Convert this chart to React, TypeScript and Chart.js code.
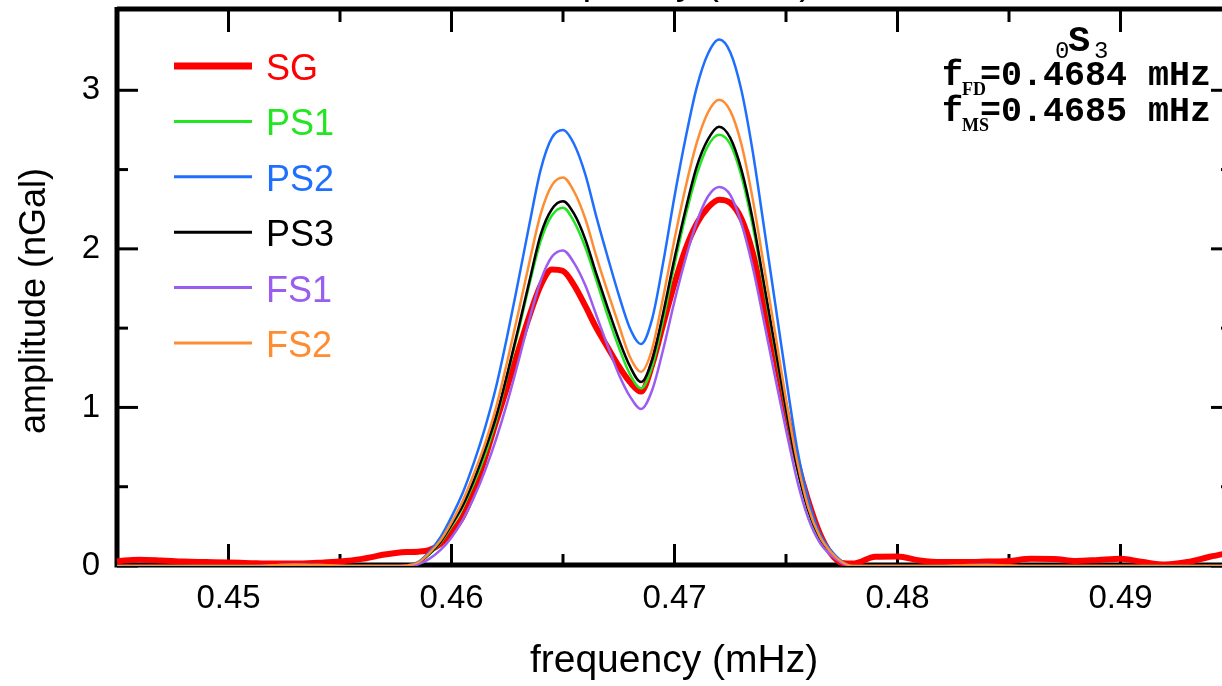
import React, { useEffect, useRef } from "react";
import { Chart, registerables } from "chart.js";

Chart.register(...registerables);

// frequency grid (mHz)
const FREQ = [
  0.445, 0.446, 0.447, 0.448, 0.449, 0.45, 0.451, 0.452, 0.453, 0.454, 0.455, 0.456, 0.457,
  0.4575, 0.458, 0.4585, 0.459, 0.4595, 0.46, 0.4605, 0.461, 0.4615, 0.462,
  0.4625, 0.463, 0.4635, 0.464, 0.4645, 0.465, 0.4655, 0.466, 0.4665, 0.467,
  0.4675, 0.468, 0.4685, 0.469, 0.4695, 0.47, 0.4705, 0.471, 0.4715, 0.472,
  0.4725, 0.473, 0.4735, 0.474, 0.4745, 0.475, 0.4755, 0.476, 0.4765, 0.477,
  0.4775, 0.478,
  0.479, 0.48, 0.481, 0.482, 0.483, 0.484, 0.485, 0.486, 0.487, 0.488, 0.489, 0.49,
  0.491, 0.492, 0.493, 0.494, 0.495,
];

const SG = [
  0.03, 0.04, 0.035, 0.028, 0.025, 0.022, 0.018, 0.015, 0.015, 0.02, 0.028, 0.045, 0.072,
  0.082, 0.088, 0.09, 0.1, 0.14, 0.21, 0.31, 0.47, 0.68, 0.91,
  1.13, 1.36, 1.58, 1.77, 1.87, 1.86, 1.77, 1.64, 1.5, 1.38,
  1.26, 1.16, 1.1, 1.27, 1.53, 1.78, 2.0, 2.16, 2.26, 2.31,
  2.29, 2.19, 1.98, 1.66, 1.33, 0.98, 0.66, 0.41, 0.21, 0.08,
  0.02, 0.015,
  0.058, 0.06, 0.035, 0.025, 0.025, 0.028, 0.032, 0.045, 0.044, 0.032, 0.038, 0.045,
  0.025, 0.01, 0.025, 0.058, 0.085,
];

const PS1 = [
  0, 0, 0, 0, 0, 0, 0, 0.003, 0.007, 0.005, 0.002, 0, 0,
  0, 0.004, 0.02, 0.072, 0.145, 0.25, 0.37, 0.52, 0.7, 0.92,
  1.2, 1.48, 1.78, 2.05, 2.21, 2.26, 2.17, 2.01, 1.8, 1.58,
  1.38, 1.21, 1.12, 1.26, 1.56, 1.9, 2.21, 2.47, 2.65, 2.72,
  2.66, 2.46, 2.15, 1.77, 1.37, 0.98, 0.62, 0.35, 0.17, 0.08,
  0.025, 0,
  0, 0, 0, 0, 0.004, 0.006, 0.003, 0, 0, 0, 0, 0,
  0, 0, 0, 0, 0,
];

const PS2 = [
  0, 0, 0, 0, 0, 0, 0, 0.004, 0.008, 0.006, 0.002, 0, 0,
  0, 0.005, 0.025, 0.09, 0.18, 0.31, 0.46, 0.65, 0.87, 1.13,
  1.45, 1.8, 2.16, 2.5, 2.7, 2.75, 2.66, 2.47, 2.2, 1.95,
  1.71, 1.5, 1.4, 1.56, 1.92, 2.33, 2.7, 3.02, 3.23, 3.32,
  3.24, 3.0, 2.62, 2.15, 1.67, 1.19, 0.74, 0.42, 0.21, 0.1,
  0.03, 0,
  0, 0, 0, 0, 0.005, 0.007, 0.003, 0, 0, 0, 0, 0,
  0, 0, 0, 0, 0,
];

const PS3 = [
  0, 0, 0, 0, 0, 0, 0, 0.003, 0.007, 0.005, 0.002, 0, 0,
  0, 0.004, 0.02, 0.075, 0.15, 0.26, 0.38, 0.54, 0.73, 0.94,
  1.21, 1.5, 1.8, 2.09, 2.25, 2.3, 2.22, 2.06, 1.84, 1.63,
  1.43, 1.26, 1.16, 1.3, 1.6, 1.94, 2.25, 2.52, 2.69, 2.77,
  2.7, 2.5, 2.19, 1.79, 1.39, 0.99, 0.62, 0.35, 0.18, 0.08,
  0.025, 0,
  0, 0, 0, 0, 0.004, 0.006, 0.003, 0, 0, 0, 0, 0,
  0, 0, 0, 0, 0,
];

const FS1 = [
  0, 0, 0, 0, 0, 0, 0, 0.004, 0.009, 0.006, 0.002, 0, 0,
  0, 0, 0.01, 0.045, 0.1, 0.18, 0.29, 0.43, 0.6, 0.8,
  1.03, 1.29, 1.56, 1.8, 1.95, 1.99, 1.91, 1.77, 1.58, 1.39,
  1.21, 1.07, 0.99, 1.11, 1.37, 1.67, 1.94, 2.17, 2.33, 2.39,
  2.34, 2.16, 1.89, 1.55, 1.2, 0.86, 0.54, 0.3, 0.15, 0.07,
  0.02, 0,
  0, 0, 0, 0, 0.005, 0.008, 0.003, 0, 0, 0, 0, 0,
  0, 0, 0, 0, 0,
];

const FS2 = [
  0, 0, 0, 0, 0, 0, 0, 0.004, 0.008, 0.006, 0.002, 0, 0,
  0, 0.004, 0.022, 0.08, 0.16, 0.275, 0.41, 0.58, 0.77, 1.0,
  1.29, 1.6, 1.92, 2.22, 2.4, 2.45, 2.36, 2.19, 1.95, 1.73,
  1.52, 1.32, 1.225, 1.37, 1.7, 2.06, 2.39, 2.67, 2.86, 2.94,
  2.87, 2.66, 2.32, 1.9, 1.48, 1.05, 0.66, 0.37, 0.19, 0.09,
  0.027, 0,
  0, 0, 0, 0, 0.005, 0.007, 0.003, 0, 0, 0, 0, 0,
  0, 0, 0, 0, 0,
];

const SERIES_LABELS = ["SG", "PS1", "PS2", "PS3", "FS1", "FS2"];
const SERIES_VALUES = [SG, PS1, PS2, PS3, FS1, FS2];
const SERIES_COLORS = ["#ff0000", "#22e622", "#1f6fff", "#000000", "#9b5cf0", "#ff8c30"];
const SERIES_WIDTHS = [6, 2.5, 2.5, 2.5, 2.5, 2.5];

const X_TICKS = [0.45, 0.46, 0.47, 0.48, 0.49];
const X_MINOR = [0.455, 0.465, 0.475, 0.485];
const Y_TICKS = [0, 1, 2, 3];
const Y_MINOR = [0.5, 1.5, 2.5];

const X_TITLE = "frequency (mHz)";
const Y_TITLE = "amplitude (nGal)";
const MODE_NAME = ["0", "S", "3"];
const F_LINES = [
  ["f", "FD", "=0.4684 mHz"],
  ["f", "MS", "=0.4685 mHz"],
];

const OFFSET_Y = 40; // canvas is shifted up by this many pixels
const CW = 1262;
const CH = 726;

const decorPlugin = {
  id: "decor",
  beforeDatasetsDraw(chart: any) {
    const { ctx, chartArea: a, scales } = chart;
    const x = scales.x;
    const y = scales.y;
    ctx.save();
    ctx.strokeStyle = "#000";
    ctx.lineCap = "butt";
    ctx.lineWidth = 3;
    const bottom = a.bottom - 1;
    const tick = (x1: number, y1: number, x2: number, y2: number) => {
      ctx.beginPath();
      ctx.moveTo(x1, y1);
      ctx.lineTo(x2, y2);
      ctx.stroke();
    };
    X_TICKS.forEach((v) => {
      const px = x.getPixelForValue(v);
      tick(px, bottom, px, bottom - 21);
      tick(px, a.top, px, a.top + 21);
    });
    X_MINOR.forEach((v) => {
      const px = x.getPixelForValue(v);
      tick(px, bottom, px, bottom - 11);
      tick(px, a.top, px, a.top + 11);
    });
    Y_TICKS.forEach((v) => {
      const py = y.getPixelForValue(v);
      tick(a.left, py, a.left + 21, py);
      tick(a.right, py, a.right - 21, py);
    });
    Y_MINOR.forEach((v) => {
      const py = y.getPixelForValue(v);
      tick(a.left, py, a.left + 11, py);
      tick(a.right, py, a.right - 11, py);
    });
    ctx.lineWidth = 5;
    ctx.beginPath();
    ctx.moveTo(a.left, bottom);
    ctx.lineTo(a.right, bottom);
    ctx.moveTo(a.left, a.top - 2);
    ctx.lineTo(a.right, a.top - 2);
    ctx.moveTo(a.left, a.top - 4);
    ctx.lineTo(a.left, bottom + 2.5);
    ctx.moveTo(a.right, a.top - 4);
    ctx.lineTo(a.right, bottom + 2.5);
    ctx.stroke();
    ctx.restore();
  },
  afterDraw(chart: any) {
    const { ctx } = chart;
    ctx.save();
    ctx.fillStyle = "#000";
    // axis titles
    ctx.font = '39px "Liberation Sans"';
    ctx.textAlign = "center";
    ctx.textBaseline = "alphabetic";
    ctx.fillText(X_TITLE, 674, 672 + OFFSET_Y);
    ctx.fillText(X_TITLE, 668, -6 + OFFSET_Y);
    ctx.save();
    ctx.translate(45, 301 + OFFSET_Y);
    ctx.rotate(-Math.PI / 2);
    ctx.font = '36px "Liberation Sans"';
    ctx.fillText(Y_TITLE, 0, 0);
    ctx.restore();

    // legend
    const ds = chart.data.datasets;
    ds.forEach((d: any, i: number) => {
      const ly = 66 + i * 55.4 + OFFSET_Y;
      ctx.strokeStyle = d.borderColor;
      ctx.lineWidth = i === 0 ? 7 : 3;
      ctx.beginPath();
      ctx.moveTo(174, ly);
      ctx.lineTo(252, ly);
      ctx.stroke();
      ctx.fillStyle = d.borderColor;
      ctx.font = '36px "Liberation Sans"';
      ctx.textAlign = "left";
      ctx.textBaseline = "alphabetic";
      ctx.fillText(d.label, 266, ly + 14);
    });

    // mode annotation
    ctx.fillStyle = "#000";
    ctx.textAlign = "left";
    ctx.textBaseline = "alphabetic";
    ctx.font = '24px "Liberation Mono"';
    ctx.fillText(MODE_NAME[0], 1055, 58 + OFFSET_Y);
    ctx.font = 'bold 37px "Liberation Mono"';
    ctx.fillText(MODE_NAME[1], 1068, 51 + OFFSET_Y);
    ctx.font = '24px "Liberation Mono"';
    ctx.fillText(MODE_NAME[2], 1094, 58 + OFFSET_Y);

    F_LINES.forEach((ln, i) => {
      const base = (i === 0 ? 85 : 121) + OFFSET_Y;
      ctx.font = 'bold 35px "Liberation Mono"';
      ctx.fillText(ln[0], 942, base);
      ctx.font = 'bold 18px "Liberation Serif"';
      ctx.fillText(ln[1], 962, base + 10);
      ctx.font = 'bold 35px "Liberation Mono"';
      ctx.fillText(ln[2], 980, base);
    });
    ctx.restore();
  },
};

export default function App() {
  const canvasRef = useRef<HTMLCanvasElement | null>(null);

  useEffect(() => {
    document.body.style.margin = "0";
    document.body.style.overflow = "hidden";
    const canvas = canvasRef.current;
    if (!canvas) return;
    const datasets = SERIES_LABELS.map((label, i) => ({
      label,
      data: FREQ.map((f, j) => ({ x: f, y: SERIES_VALUES[i][j] })),
      borderColor: SERIES_COLORS[i],
      backgroundColor: SERIES_COLORS[i],
      borderWidth: SERIES_WIDTHS[i],
      pointRadius: 0,
      fill: false,
      cubicInterpolationMode: "monotone" as const,
      order: i === 0 ? 10 : 6 - i,
    }));
    const chart = new Chart(canvas, {
      type: "line",
      data: { datasets },
      options: {
        responsive: false,
        animation: false,
        devicePixelRatio: 1,
        layout: { padding: { left: 0, right: CW - 1232, top: 51, bottom: 0 } },
        plugins: {
          legend: { display: false },
          tooltip: { enabled: false },
          title: { display: false },
        },
        scales: {
          x: {
            type: "linear",
            min: 0.445,
            max: 0.495,
            afterBuildTicks: (s: any) => {
              s.ticks = X_TICKS.map((v) => ({ value: v }));
            },
            afterFit: (s: any) => {
              s.height = CH - 606;
            },
            grid: { display: false, drawTicks: false },
            border: { display: false },
            ticks: {
              autoSkip: false,
              maxRotation: 0,
              padding: 13,
              color: "#000",
              font: { family: "Liberation Sans", size: 33 },
              callback: (v: any) => Number(v).toFixed(2),
            },
          },
          y: {
            type: "linear",
            min: 0,
            max: 3.5,
            afterBuildTicks: (s: any) => {
              s.ticks = Y_TICKS.map((v) => ({ value: v }));
            },
            afterFit: (s: any) => {
              s.width = 117;
            },
            grid: { display: false, drawTicks: false },
            border: { display: false },
            ticks: {
              autoSkip: false,
              padding: 17,
              color: "#000",
              font: { family: "Liberation Sans", size: 33 },
              callback: (v: any) => String(v),
            },
          },
        },
      },
      plugins: [decorPlugin],
    });
    return () => chart.destroy();
  }, []);

  return (
    <div
      style={{
        position: "fixed",
        left: 0,
        top: 0,
        width: 1222,
        height: 686,
        overflow: "hidden",
        background: "#fff",
      }}
    >
      <canvas
        ref={canvasRef}
        width={CW}
        height={CH}
        style={{ position: "absolute", left: 0, top: -OFFSET_Y, width: CW, height: CH }}
      />
    </div>
  );
}
